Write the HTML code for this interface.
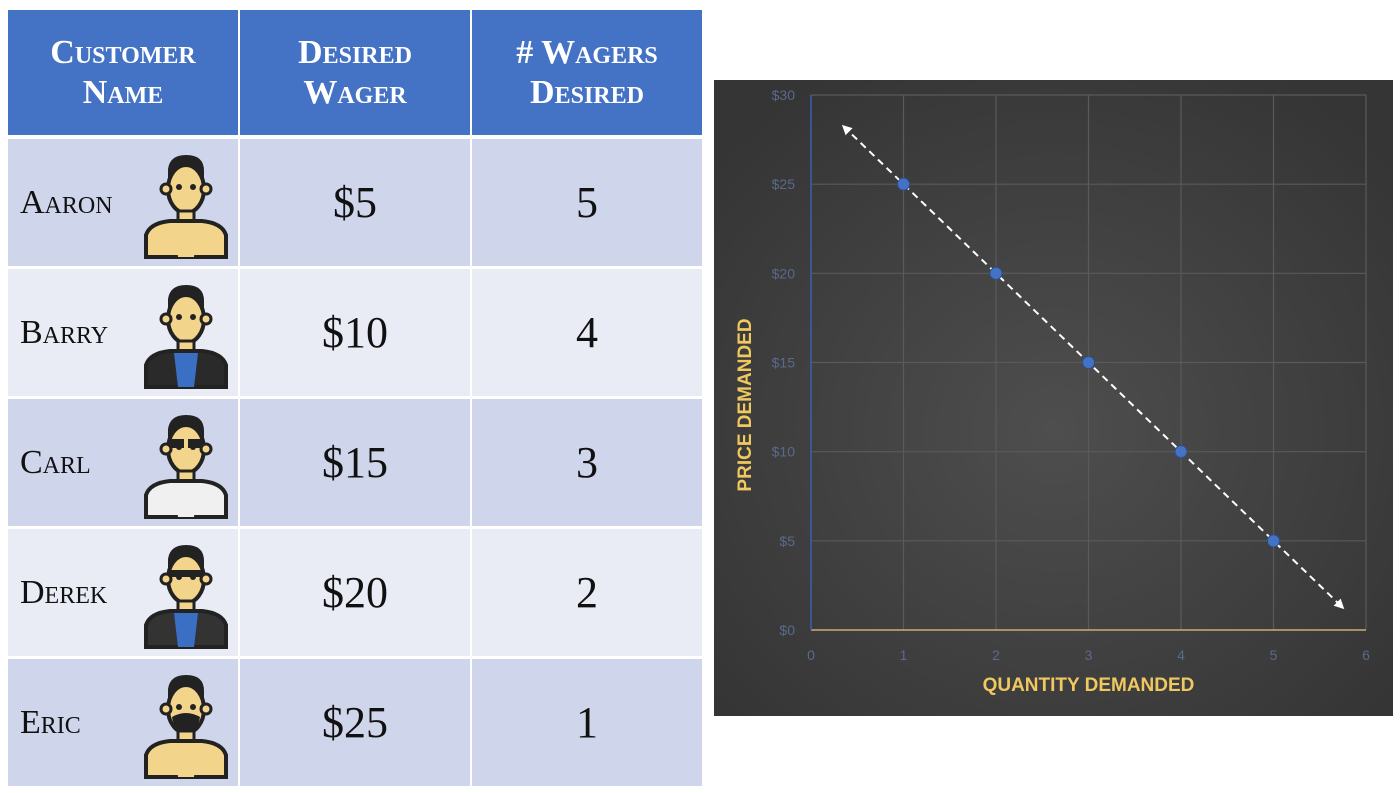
<!DOCTYPE html>
<html><head><meta charset="utf-8">
<style>
html,body{margin:0;padding:0;background:#fff;}
body{width:1400px;height:793px;position:relative;overflow:hidden;font-family:"Liberation Serif",serif;}
.cell{position:absolute;display:flex;align-items:center;justify-content:center;box-sizing:border-box;font-variant:small-caps;}
.hd{background:#4472c4;color:#fff;font-size:34px;line-height:40px;text-align:center;font-weight:bold;}
.a{background:#cfd5ea;}
.b{background:#e9ebf5;}
.nm{justify-content:flex-start;padding-left:12px;font-size:34px;color:#111;}
.num{font-size:44px;color:#111;}
.av{position:absolute;}
#chart{position:absolute;left:714px;top:80px;width:679px;height:636px;}
</style></head><body>
<div>
<div class="cell hd" style="left:8px;top:10px;width:230px;height:125px">Customer<br>Name</div>
<div class="cell hd" style="left:240px;top:10px;width:230px;height:125px">Desired<br>Wager</div>
<div class="cell hd" style="left:472px;top:10px;width:230px;height:125px"># Wagers<br>Desired</div>
</div>
<div id="rows"></div>
<div id="chart"></div>
<script>
const names=['Aaron','Barry','Carl','Derek','Eric'];
const wagers=['$5','$10','$15','$20','$25'];
const counts=['5','4','3','2','1'];
const rowsEl=document.getElementById('rows');
function avatar(i){
  const jacket=['#f2d58a','#2a2a2a','#f0f0f0','#333','#f2d58a'][i];
  const shirt=['#f2d58a','#3a6fc4','#f0f0f0','#3a6fc4','#f2d58a'][i];
  let extra='';
  if(i==2) extra='<rect x="30" y="30" width="14" height="9" fill="#222"/><rect x="48" y="30" width="14" height="9" fill="#222"/>';
  if(i==3) extra='<rect x="30" y="31" width="32" height="7" fill="#222"/>';
  if(i==4) extra='<path d="M32 48 Q46 40 60 48 Q58 62 46 64 Q34 62 32 48Z" fill="#222"/>';
  return '<svg width="92" height="110" viewBox="0 0 92 110"><path d="M28 20 Q30 6 46 6 Q64 6 64 22 L64 30 L28 30Z" fill="#222"/>'+
  '<ellipse cx="46" cy="40" rx="18" ry="24" fill="#f2d58a" stroke="#222" stroke-width="4"/>'+
  '<circle cx="26" cy="40" r="5" fill="#f2d58a" stroke="#222" stroke-width="3"/><circle cx="66" cy="40" r="5" fill="#f2d58a" stroke="#222" stroke-width="3"/>'+
  '<circle cx="39" cy="38" r="3" fill="#222"/><circle cx="53" cy="38" r="3" fill="#222"/>'+extra+
  '<rect x="38" y="62" width="16" height="12" fill="#f2d58a" stroke="#222" stroke-width="3"/>'+
  '<path d="M6 108 L6 86 Q10 74 30 72 L62 72 Q82 74 86 86 L86 108Z" fill="'+jacket+'" stroke="#222" stroke-width="4"/>'+
  '<path d="M34 74 L58 74 L54 108 L38 108Z" fill="'+shirt+'"/></svg>';
}
names.forEach((n,i)=>{
  const top=139+i*130, cls=i%2==0?'a':'b';
  const c1=document.createElement('div');c1.className='cell nm '+cls;
  c1.style.cssText=`left:8px;top:${top}px;width:230px;height:127px`;
  c1.textContent=n;
  
  
  const av=document.createElement('div');av.className='av';av.style.cssText='left:132px;top:10px';
  av.innerHTML=avatar(i);
  
  
  c1.appendChild(av);
  const c2=document.createElement('div');c2.className='cell num '+cls;
  c2.style.cssText=`left:240px;top:${top}px;width:230px;height:127px`;
  c2.textContent=wagers[i];
  
  
  const c3=document.createElement('div');c3.className='cell num '+cls;
  c3.style.cssText=`left:472px;top:${top}px;width:230px;height:127px`;
  c3.textContent=counts[i];
  
  
  rowsEl.append(c1,c2,c3);
});
</script>
<script>
const qty=[1,2,3,4,5];
const price=[25,20,15,10,5];
const xTicks=['0','1','2','3','4','5','6'];
const yTicks=['$0','$5','$10','$15','$20','$25','$30'];
const trendX=[0.35,5.75];
const trendY=[28.25,1.25];
const W=679,H=636,L=97,R=652,T=15,B=550;
const xs=v=>L+(v/6)*(R-L), ys=v=>B-(v/30)*(B-T);
const NS='http://www.w3.org/2000/svg';
const svg=document.createElementNS(NS,'svg');
svg.setAttribute('width',W);svg.setAttribute('height',H);


svg.innerHTML='<defs><radialGradient id="bg" cx="50%" cy="55%" r="65%"><stop offset="0" stop-color="#4e4e4e"/><stop offset="1" stop-color="#353535"/></radialGradient><marker id="ar" viewBox="0 0 10 10" refX="8" refY="5" markerWidth="5" markerHeight="5" orient="auto-start-reverse"><path d="M0 0L10 5L0 10Z" fill="#fff"/></marker></defs><rect width="679" height="636" fill="url(#bg)"/>';
function el(tag,attrs,name){const e=document.createElementNS(NS,tag);for(const k in attrs)e.setAttribute(k,attrs[k]);svg.appendChild(e);return e;}
xTicks.forEach((t,i)=>{
  const x=xs(i);
  if(i>0){const g=el('line',{x1:x,x2:x,y1:T,y2:B,stroke:'#5a5a5a','stroke-width':1.2},'x-gridline');}
  const tx=el('text',{x:x,y:B+30,fill:'#5a6a8a','font-size':14,'text-anchor':'middle','font-family':'Liberation Sans, sans-serif'},'x-tick-label');tx.textContent=t;
});
yTicks.forEach((t,i)=>{
  const y=ys(i*5);
  if(i>0){el('line',{x1:L,x2:R,y1:y,y2:y,stroke:'#5a5a5a','stroke-width':1.2},'y-gridline');}
  const tx=el('text',{x:L-16,y:y+5,fill:'#5a6a8a','font-size':14,'text-anchor':'end','font-family':'Liberation Sans, sans-serif'},'y-tick-label');tx.textContent=t;
});
el('line',{x1:L,x2:R,y1:B,y2:B,stroke:'#c8b070','stroke-width':1.5},'x-axis-line');
el('line',{x1:L,x2:L,y1:T,y2:B,stroke:'#3a5fb0','stroke-width':1.5},'y-axis-line');
el('line',{x1:xs(trendX[0]),y1:ys(trendY[0]),x2:xs(trendX[1]),y2:ys(trendY[1]),stroke:'#fff','stroke-width':2,'stroke-dasharray':'7 5','marker-start':'url(#ar)','marker-end':'url(#ar)'},'demand-trend-line');
qty.forEach((q,i)=>{el('circle',{cx:xs(q),cy:ys(price[i]),r:6,fill:'#4472c4',stroke:'#2d4f8f','stroke-width':1},'demand-point');});
const xt=el('text',{x:(L+R)/2,y:611,fill:'#f0c860','font-size':19,'font-weight':'bold','text-anchor':'middle','font-family':'Liberation Sans, sans-serif'},'x-axis-title');xt.textContent='QUANTITY DEMANDED';
const yt=el('text',{x:0,y:0,fill:'#f0c860','font-size':19,'font-weight':'bold','text-anchor':'middle','font-family':'Liberation Sans, sans-serif',transform:'translate(37,325) rotate(-90)'},'y-axis-title');yt.textContent='PRICE DEMANDED';
document.getElementById('chart').appendChild(svg);
</script>
</body></html>
